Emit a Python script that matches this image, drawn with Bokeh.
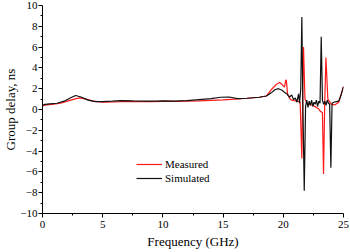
from bokeh.plotting import figure
from bokeh.models import Range1d, FixedTicker, Legend, LegendItem
from bokeh.embed import file_html
from bokeh.resources import INLINE

# Measured (red)
meas_f = [0, 0.3, 0.8, 1.5, 2.2, 2.8, 3.1, 3.6, 4.2, 5.0, 6.0, 7.0, 8.0, 9.0, 10.0, 11.0, 12.0,
          13.0, 14.0, 15.0, 16.0, 17.0, 18.0, 18.6, 19.0, 19.4, 19.7, 19.9, 20.1, 20.2, 20.25,
          20.35, 20.6, 20.9, 21.2, 21.4, 21.54, 21.62, 21.68, 21.8, 22.0, 22.3, 22.6, 22.9,
          23.1, 23.25, 23.34, 23.44, 23.54, 23.7, 24.0, 24.3, 24.6, 25.0]
meas_d = [0.35, 0.45, 0.5, 0.6, 0.85, 1.05, 1.12, 1.0, 0.8, 0.7, 0.72, 0.78, 0.75, 0.75, 0.78,
          0.78, 0.8, 0.82, 0.88, 0.93, 1.0, 1.08, 1.18, 1.3, 1.9, 2.4, 2.6, 2.4, 2.15, 2.8, 2.85,
          1.5, 0.95, 0.85, 0.8, 0.7, -4.7, 2.0, 6.0, 1.0, 0.55, 0.45, 0.3, 0.1,
          -0.2, -0.3, -6.2, 0.5, 5.0, 1.0, 0.5, 0.45, 0.7, 2.2]

# Simulated (black)
sim_f = [0, 0.2, 0.6, 1.2, 1.8, 2.3, 2.75, 3.2, 3.8, 4.4, 5.0, 5.8, 6.5, 7.5, 8.5, 9.5, 10.0,
         11.0, 12.0, 13.0, 14.0, 14.8, 15.5, 16.2, 17.0, 18.0, 18.6, 19.0, 19.3, 19.6, 19.9,
         20.1, 20.3, 20.5, 20.7, 20.85, 21.0, 21.13, 21.27, 21.35, 21.45, 21.54, 21.62, 21.74,
         21.85, 21.95, 22.05, 22.15, 22.25, 22.35, 22.45, 22.55, 22.65, 22.75, 22.85, 22.95,
         23.05, 23.15, 23.25, 23.35, 23.45, 23.55, 23.65, 23.75, 23.85, 23.95, 24.05, 24.2,
         24.4, 24.6, 24.8, 25.0]
sim_d = [0.4, 0.5, 0.55, 0.6, 0.8, 1.1, 1.35, 1.2, 0.9, 0.75, 0.75, 0.8, 0.85, 0.82, 0.8, 0.8,
         0.82, 0.8, 0.85, 0.95, 1.05, 1.18, 1.2, 1.05, 1.08, 1.18, 1.3, 1.6, 1.9, 2.0, 1.85,
         1.65, 1.5, 1.2, 1.4, 0.95, 1.1, 0.7, 1.5, 0.6, 2.0, 8.9, 1.0, -7.8,
         0.3, 0.9, 0.2, 0.8, 0.4, 0.9, 0.3, 0.7, 0.5, 0.9, 0.3, 0.8,
         0.6, 7.0, 0.9, 0.5, 0.8, 0.4, 0.9, 0.6, 0.5, -5.6, 0.6, 0.7,
         0.75, 0.8, 1.4, 2.2]

x_major = [0, 5, 10, 15, 20, 25]
x_minor = [2.5, 7.5, 12.5, 17.5, 22.5]
y_major = [-10, -8, -6, -4, -2, 0, 2, 4, 6, 8, 10]
y_minor = [-9, -7, -5, -3, -1, 1, 3, 5, 7, 9]

FONT = "Liberation Serif"

p = figure(width=350, height=252, output_backend="svg", toolbar_location=None,
           x_range=Range1d(0, 25), y_range=Range1d(-10, 10),
           min_border_left=42, min_border_right=7, min_border_top=5, min_border_bottom=39)
p.outline_line_color = None
p.grid.visible = False
p.background_fill_color = "white"
p.border_fill_color = "white"

r_meas = p.line(meas_f, meas_d, line_color="#ff1a1a", line_width=1.2)
r_sim = p.line(sim_f, sim_d, line_color="#111111", line_width=1.2)

for ax in (p.xaxis[0], p.yaxis[0]):
    ax.axis_line_color = "black"
    ax.axis_line_width = 1
    ax.major_tick_line_color = "black"
    ax.minor_tick_line_color = "black"
    ax.major_tick_in = 0
    ax.major_tick_out = 4
    ax.minor_tick_in = 0
    ax.minor_tick_out = 2
    ax.major_label_text_font = FONT
    ax.major_label_text_font_size = "11px"
    ax.major_label_text_color = "black"
    ax.axis_label_text_font = FONT
    ax.axis_label_text_font_size = "13px"
    ax.axis_label_text_font_style = "normal"
    ax.axis_label_text_color = "black"

p.xaxis[0].ticker = FixedTicker(ticks=x_major, minor_ticks=x_minor)
p.yaxis[0].ticker = FixedTicker(ticks=y_major, minor_ticks=y_minor)
p.xaxis[0].axis_label = "Frequency (GHz)"
p.yaxis[0].axis_label = "Group delay, ns"
p.xaxis[0].major_label_standoff = 3
p.yaxis[0].major_label_standoff = 1
p.xaxis[0].axis_label_standoff = 3
p.yaxis[0].axis_label_standoff = -1

legend = Legend(items=[LegendItem(label="Measured", renderers=[r_meas]),
                       LegendItem(label="Simulated", renderers=[r_sim])],
                location=(94, 28), border_line_color=None, background_fill_alpha=0,
                padding=0, margin=0, spacing=0, glyph_width=26, glyph_height=14,
                label_height=14, label_standoff=3,
                label_text_font=FONT, label_text_font_size="11px", label_text_color="black")
p.add_layout(legend)

open("out.html", "w").write(file_html(p, INLINE))
